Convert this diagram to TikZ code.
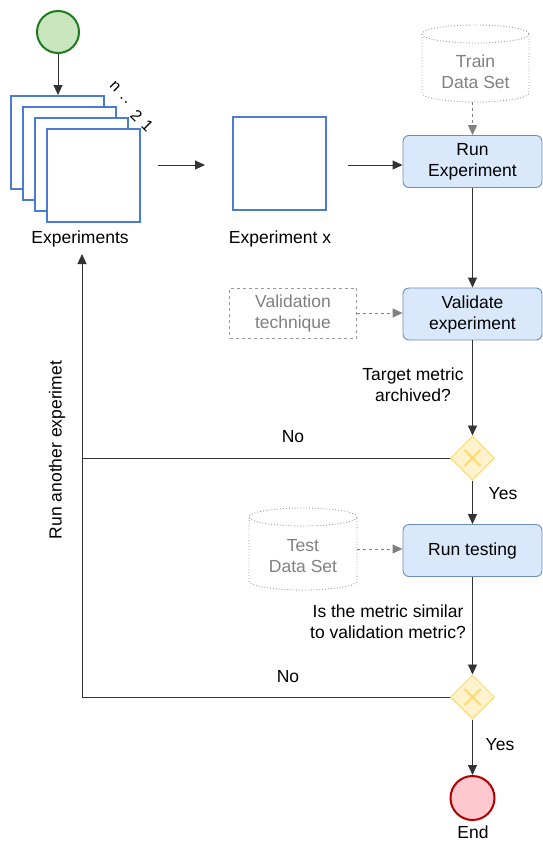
\documentclass[tikz,border=0pt]{standalone}
\usepackage{fontspec}
\setmainfont{Liberation Sans}
\usetikzlibrary{arrows.meta,shapes.geometric,calc}
\definecolor{taskfill}{HTML}{DAE8FC}
\definecolor{taskline}{HTML}{6C8EBF}
\definecolor{stackblue}{HTML}{4A7DD1}
\definecolor{gwfill}{HTML}{FFF2CC}
\definecolor{gwline}{HTML}{FFD966}
\definecolor{startfill}{HTML}{C9E6BE}
\definecolor{startline}{HTML}{1E7A1E}
\definecolor{endfill}{HTML}{FFC9CF}
\definecolor{endline}{HTML}{B20000}
\definecolor{grayline}{HTML}{9A9A9A}
\definecolor{graytext}{HTML}{808080}
\definecolor{conn}{HTML}{333333}
\begin{document}
\begin{tikzpicture}[x=1pt,y=-1pt,
  font=\fontsize{17.5}{21}\selectfont,
  arr/.style={draw=conn, line width=0.9pt, -{Triangle[length=10pt,width=9pt]}},
  plainline/.style={draw=conn, line width=0.9pt},
  grayarr/.style={draw=graytext, line width=0.9pt, dashed, -{Triangle[length=10pt,width=9pt,fill=graytext]}},
  task/.style={draw=taskline, fill=taskfill, rounded corners=6pt, line width=0.9pt,
    minimum width=139pt, minimum height=52pt, align=center, inner sep=0pt},
  expbox/.style={draw=stackblue, fill=white, line width=2pt, minimum width=93pt, minimum height=93pt, inner sep=0pt},
  gateway/.style={diamond, draw=gwline, fill=gwfill, line width=1pt, minimum width=44pt, minimum height=44pt, inner sep=0pt},
  lbl/.style={align=center, inner sep=0pt},
  graylbl/.style={align=center, inner sep=0pt, text=graytext},
  cylline/.style={draw=grayline, line width=0.9pt, dotted},
  stacklbl/.style={rotate=-45, inner sep=0pt, font=\fontsize{16}{16}\selectfont}
]
\useasboundingbox (0,0) rectangle (543,841);

% start event
\node[circle, draw=startline, fill=startfill, line width=2pt, minimum size=42pt, inner sep=0pt] (start) at (58,32) {};

% stack of experiments
\node[expbox] (s1) at (57,142.5) {};
\node[expbox] (s2) at (69,153.5) {};
\node[expbox] (s3) at (81,164.5) {};
\node[expbox] (s4) at (93,175.5) {};
\node[stacklbl] (ln) at (115,87) {n};
\node[stacklbl] (ld1) at (121.5,98) {.};
\node[stacklbl] (ld2) at (126,102.5) {.};
\node[stacklbl] (l2) at (136.5,115.5) {2};
\node[stacklbl] (l1) at (147.5,126) {1};
\node[lbl] (explbl) at (80,239) {Experiments};
\draw[arr] (start) -- (s1.north -| start);

% experiment x
\node[expbox] (ex) at (279.5,163.5) {};
\node[lbl] (exlbl) at (280,239) {Experiment x};
\coordinate (a1) at (158,165);
\coordinate (a2) at (205,165);
\draw[arr] (a1) -- (a2);

% run experiment
\node[task] (run) at (472.5,161.5) {Run\\Experiment};
\coordinate (a3) at (348,165);
\draw[arr] (a3) -- (a3 -| run.west);

% train data set cylinder
\node[minimum width=107pt, minimum height=77pt, inner sep=0pt] (train) at (475.5,63.5) {};
\draw[cylline] (475.5,34) ellipse [x radius=53.5, y radius=9];
\draw[cylline] (422,34) -- (422,93) arc[start angle=180, end angle=0, x radius=53.5, y radius=9] -- (529,34);
\node[graylbl] at (475.5,72) {Train\\Data Set};
\draw[grayarr] (train.south -| run) -- (run.north);

% validate
\node[task] (val) at (472.5,314) {Validate\\experiment};
\draw[arr] (run) -- (val);
\node[draw=grayline, dashed, line width=0.9pt, minimum width=127pt, minimum height=50pt, text=graytext, align=center, inner sep=0pt] (vtech) at (293,313) {Validation\\technique};
\draw[grayarr] (vtech.east) -- (vtech.east -| val.west);

% gateway 1
\node[gateway] (gw1) at (472.5,458) {};
\draw[arr] (val) -- (gw1);
\node[lbl] (q1) at (413,385) {Target metric\\archived?};
\node[lbl] (no1) at (293,437) {No};
\node[lbl] (yes1) at (503,494) {Yes};

% run testing
\node[task] (test) at (472.5,550.5) {Run testing};
\draw[arr] (gw1) -- (test);

% test data set cylinder
\node[minimum width=108pt, minimum height=82pt, inner sep=0pt] (tds) at (303,549) {};
\draw[cylline] (303,517) ellipse [x radius=54, y radius=9];
\draw[cylline] (249,517) -- (249,581) arc[start angle=180, end angle=0, x radius=54, y radius=9] -- (357,517);
\node[graylbl] at (303,556.5) {Test\\Data Set};
\draw[grayarr] (tds.east) -- (tds.east -| test.west);

% gateway 2
\node[gateway] (gw2) at (472.5,697) {};
\draw[arr] (test) -- (gw2);
\node[lbl] (q2) at (388,622) {Is the metric similar\\to validation metric?};
\node[lbl] (no2) at (288,677) {No};
\node[lbl] (yes2) at (500,745) {Yes};

% end
\node[circle, draw=endline, fill=endfill, line width=2pt, minimum size=44pt, inner sep=0pt] (endev) at (472.5,798) {};
\node[lbl] (endlbl) at (473,832) {End};
\draw[arr] (gw2) -- (endev);

% loop back
\coordinate (loop) at (82,254);
\draw[arr] (gw2.west) -| (loop);
\draw[plainline] (gw1.west) -- (gw1.west -| loop);
\node[lbl, rotate=90] (runagain) at (57,450) {Run another experimet};

% gateway X marks
\foreach \g in {gw1,gw2}{
  \draw[gwline, line width=2pt] ($(\g)+(-8,-8)$) -- ($(\g)+(8,8)$);
  \draw[gwline, line width=2pt] ($(\g)+(-8,8)$) -- ($(\g)+(8,-8)$);
}
\end{tikzpicture}
\end{document}
